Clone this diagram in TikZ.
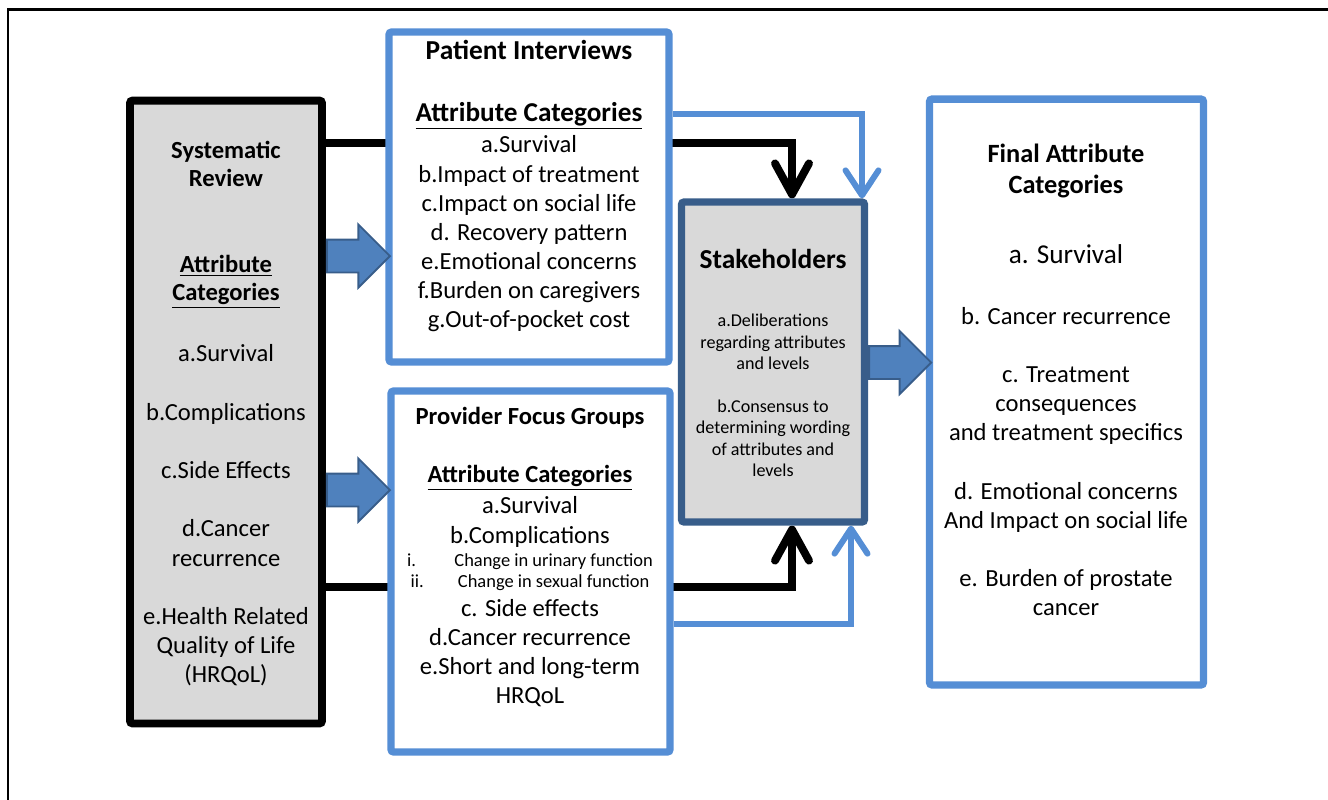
\documentclass[tikz,border=0pt]{standalone}
\usepackage{fontspec}
\setmainfont{Carlito}
\usetikzlibrary{arrows.meta,backgrounds,shapes.arrows}

\definecolor{lineblue}{RGB}{85,142,213}
\definecolor{darkblue}{RGB}{56,93,138}
\definecolor{fillblue}{RGB}{79,129,189}
\definecolor{boxgray}{RGB}{217,217,217}

\newcommand{\fsz}[2]{\fontsize{#1}{#2}\selectfont}

\begin{document}
\begin{tikzpicture}[x=0.02cm, y=-0.02cm]
\tikzstyle{greybox}=[draw=black, fill=boxgray, line width=4.5pt, rounded corners=1.5pt, inner sep=0pt]
\tikzstyle{bluebox}=[draw=lineblue, fill=white, line width=4.2pt, rounded corners=1.5pt, inner sep=0pt]
\tikzstyle{stakebox}=[draw=darkblue, fill=boxgray, line width=4.2pt, rounded corners=1.5pt, inner sep=0pt]
\tikzstyle{txt}=[align=center, inner sep=0pt, font=\fsz{14}{16.6}]
\tikzstyle{head}=[align=center, inner sep=0pt, font=\bfseries\fsz{14}{15.9}]
\tikzstyle{small}=[align=center, inner sep=0pt, font=\fsz{10.3}{12.2}]
\tikzstyle{blackline}=[draw=black, line width=4.5pt, -{Straight Barb[length=0.62cm, width=0.68cm, round]}]
\tikzstyle{blueline}=[draw=lineblue, line width=3.4pt, -{Straight Barb[length=0.5cm, width=0.66cm, round]}]
\tikzstyle{fat}=[single arrow, draw=darkblue, fill=fillblue, line width=1.1pt, inner sep=0pt, text height=0.31cm, text depth=0.31cm, minimum height=1.26cm, minimum width=1.22cm, single arrow head extend=0.3cm, anchor=tail]

\useasboundingbox (0,0) rectangle (1328,799);

% Frame
\draw[line width=1.7pt] (8,830) -- (8,9) -- (1350,9);

% Boxes
\node at (226,412) [greybox, minimum width=3.84cm, minimum height=12.46cm] (review) {};
\node at (529,197) [bluebox, minimum width=5.6cm, minimum height=6.6cm] (interviews) {};
\node at (530.5,571.5) [bluebox, minimum width=5.58cm, minimum height=7.22cm] (focus) {};
\node at (773,362) [stakebox, minimum width=3.66cm, minimum height=6.4cm] (stake) {};
\node at (1066.5,392) [bluebox, minimum width=5.48cm, minimum height=11.72cm] (final) {};

% Systematic review
\node at (226,164) [head] (review_title) {Systematic\\Review};
\node at (226,281.5) [head] (review_cat) {\underline{Attribute}\\\underline{Categories}};
\node at (226,515.5) [txt] (review_list) {a.Survival\\[16.6pt]b.Complications\\[16.6pt]c.Side Effects\\[16.6pt]d.Cancer\\recurrence\\[16.6pt]e.Health Related\\Quality of Life\\(HRQoL)};

% Patient interviews
\node at (529,50) [head, font=\bfseries\fsz{15.6}{18}] (interviews_title) {Patient Interviews};
\node at (529,116) [head, font=\bfseries\fsz{15.5}{18}] (interviews_cat) {\underline{Attribute Categories}};
\node at (529,234) [txt] (interviews_list) {a.Survival\\b.Impact of treatment\\c.Impact on social life\\d. Recovery pattern\\e.Emotional concerns\\f.Burden on caregivers\\g.Out-of-pocket cost};

% Provider focus groups
\node at (530,418) [head] (focus_title) {Provider Focus Groups};
\node at (530,478) [head] (focus_cat) {\underline{Attribute Categories}};
\node at (530,522) [txt] (focus_ab) {a.Survival\\b.Complications};
\node at (530,572.5) [small, font=\fsz{10.5}{11.9}] (focus_sub) {\makebox[27pt][l]{i.}Change in urinary function\\\makebox[27pt][l]{ii.}Change in sexual function};
\node at (530,653) [txt] (focus_ce) {c. Side effects\\d.Cancer recurrence\\e.Short and long-term\\HRQoL};

% Stakeholders
\node at (773,259) [head, font=\bfseries\fsz{15.6}{18}] (stake_title) {Stakeholders};
\node at (773,395.5) [small] (stake_list) {a.Deliberations\\regarding attributes\\and levels\\[12.2pt]b.Consensus to\\determining wording\\of attributes and\\levels};

% Final
\node at (1066,171) [head, font=\bfseries\fsz{15}{18.1}] (final_title) {Final Attribute\\Categories};
\node at (1066,254) [txt, font=\fsz{15.5}{18}] (final_a) {a. Survival};
\node at (1066,461.5) [txt] (final_list) {b. Cancer recurrence\\[16.6pt]c. Treatment\\consequences\\and treatment specifics\\[16.6pt]d. Emotional concerns\\And Impact on social life\\[16.6pt]e. Burden of prostate\\cancer};

% Block arrows
\node[fat] at (review.east |- 0,256) (review_interviews) {};
\node[fat] at (review.east |- 0,490) (review_focus) {};
\node[fat, minimum height=1.24cm] at (stake.east |- 0,362.5) (stake_final) {};

% Connectors
\begin{scope}[on background layer]
\draw[blackline] (review.east |- 0,143) -| (stake.north -| 792,0);
\draw[blackline] (review.east |- 0,587) -| (stake.south -| 792,0);
\draw[blueline] (interviews.east |- 0,114) -| (stake.north -| 862,0);
\draw[blueline] (focus.east |- 0,624) -| (stake.south -| 851,0);
\end{scope}
\end{tikzpicture}
\end{document}
